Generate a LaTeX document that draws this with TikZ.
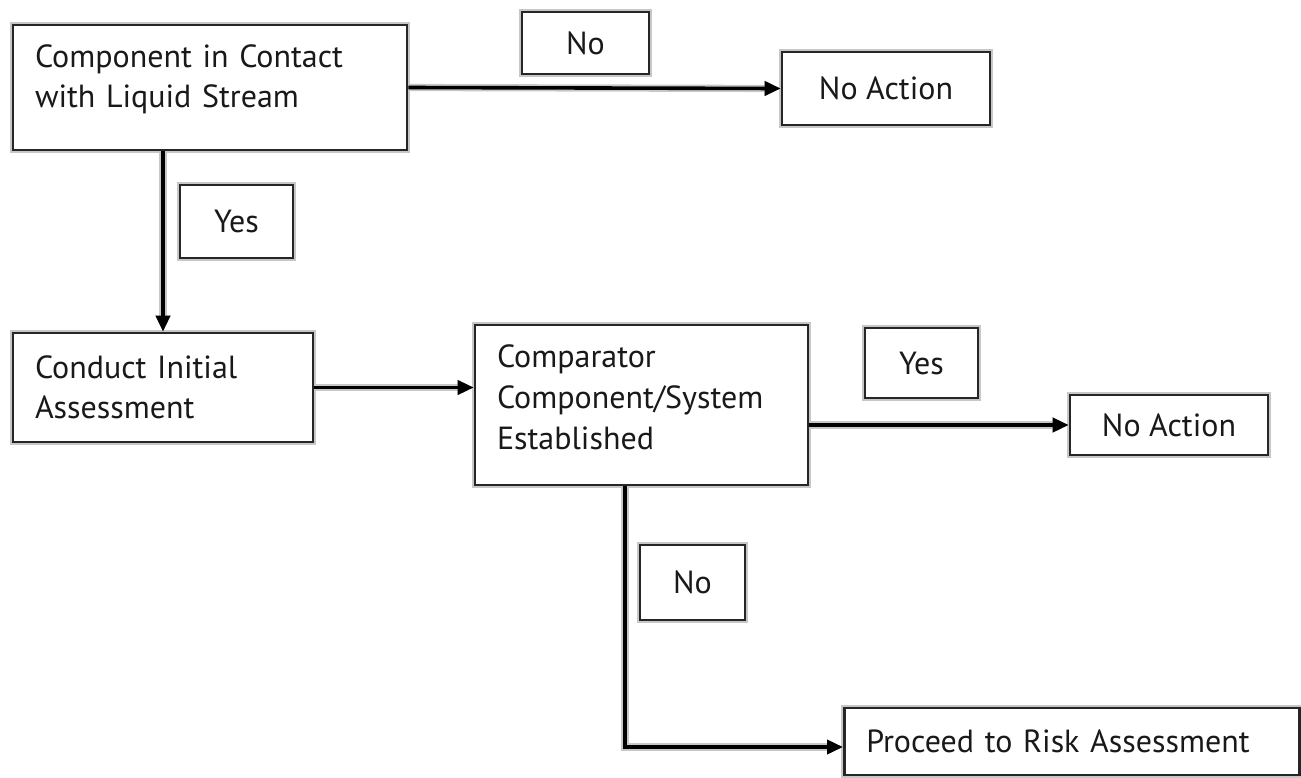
\documentclass[tikz,border=0pt]{standalone}
\usepackage{fontspec}
\setmainfont{PT Sans}
\usetikzlibrary{arrows.meta}
\tikzset{
  box/.style={draw=black!85, line width=1.3pt, fill=white,
    preaction={draw=black!22, line width=3.2pt},
    font=\fontsize{16}{20}\selectfont, text=black!90, inner sep=0pt},
  tbox/.style={box, align=left, text width=#1},
  flow/.style={draw=black, line width=1.8pt,
    preaction={draw=black!22, line width=3.6pt},
    -{Triangle[length=8pt,width=7pt]}}
}
\begin{document}
\begin{tikzpicture}[x=0.5pt,y=-0.5pt]
\useasboundingbox (0,0) rectangle (1301,777);
\node[tbox=175pt, minimum width=197pt, minimum height=62.5pt, text depth=31pt] (b1) at (210,87.5) {Component in Contact\\with Liquid Stream};
\node[box, minimum width=63.5pt, minimum height=31pt] (no1) at (585.5,43) {No};
\node[box, minimum width=104pt, minimum height=36.5pt] (na1) at (886,88.5) {No Action};
\node[box, minimum width=56.5pt, minimum height=36.5pt] (yes1) at (236.5,221.5) {Yes};
\node[tbox=128pt, minimum width=150pt, minimum height=54.5pt] (b2) at (163,387.5) {Conduct Initial\\Assessment};
\node[tbox=144.5pt, minimum width=166.5pt, minimum height=80pt, text depth=49pt, font=\fontsize{16}{20.5}\selectfont] (b3) at (641.5,405) {Comparator\\Component/System\\Established};
\node[box, minimum width=56.5pt, minimum height=35pt] (yes2) at (921.5,363) {Yes};
\node[box, minimum width=99pt, minimum height=30pt] (na2) at (1169,425) {No Action};
\node[box, minimum width=52.5pt, minimum height=37.5pt] (no3) at (692.5,582.5) {No};
\node[box, minimum width=227.5pt, minimum height=33.5pt, anchor=west, text width=205.5pt, align=left] (pr) at (843,741.5) {Proceed to Risk Assessment};
\coordinate (c3) at (625,747);
\draw[flow] (b1.east) -- (na1.west);
\draw[flow] (b1.south -| b2.north) -- (b2.north);
\draw[flow] (b2.east) -- (b3.west |- b2.east);
\draw[flow] (b3.east |- na2.west) -- (na2.west);
\draw[flow] (b3.south -| c3) -- (c3) -- (pr.west |- c3);
\end{tikzpicture}
\end{document}
